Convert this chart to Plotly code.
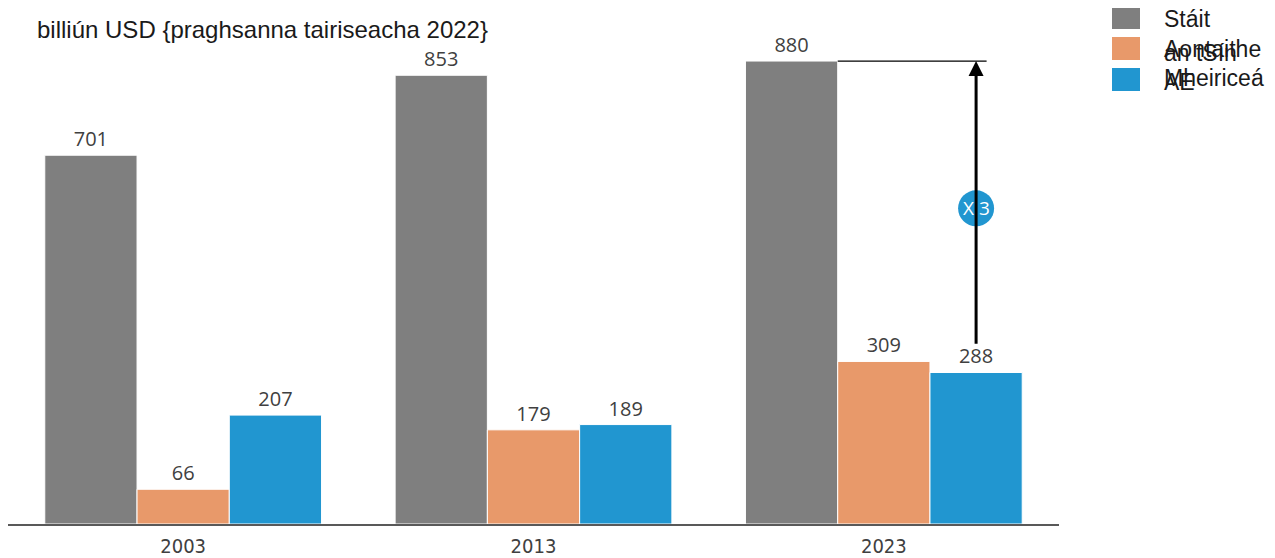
import plotly.graph_objects as go

years = ["2003", "2013", "2023"]
series_names = ["Stáit Aontaithe Mheiriceá", "an tSín", "AE"]
usa = [701, 853, 880]
china = [66, 179, 309]
eu = [207, 189, 288]
colors = ["#7f7f7f", "#e8996a", "#2196d0"]
title_text = "billiún USD {praghsanna tairiseacha 2022}"
ratio_text = "X 3"

fig = go.Figure()
for name, vals, col in zip(series_names, [usa, china, eu], colors):
    fig.add_trace(go.Bar(
        x=years, y=vals, name=name,
        marker=dict(color=col, line=dict(color="white", width=1)),
        text=[str(v) for v in vals], textposition="outside",
        textfont=dict(family="Open Sans, sans-serif", size=20, color="#404040"),
        cliponaxis=False, showlegend=False,
    ))

# page has an 8px body margin; positions below are in screen pixels
PLOT_L, PLOT_R, PLOT_T, PLOT_B = 8, 1059, 40, 524
def px_x(p):
    return (p - PLOT_L) / (PLOT_R - PLOT_L)
def px_y(p):
    return (PLOT_B - p) / (PLOT_B - PLOT_T)

# legend drawn manually (text overlaps like in the reference)
sq_tops = [6, 37, 68]
for col, top in zip(colors, sq_tops):
    fig.add_shape(type="rect", xref="paper", yref="paper",
                  x0=px_x(1112), x1=px_x(1140), y0=px_y(top + 23), y1=px_y(top),
                  fillcolor=col, line=dict(width=0))

legend_font = dict(family="Liberation Sans, Arial, sans-serif", size=23, color="#1a1a1a")
usa_lines = series_names[0].split(" ")
for line, cy in zip(usa_lines, [19, 49, 78]):
    fig.add_annotation(xref="paper", yref="paper", x=px_x(1162), y=px_y(cy),
                       text=line, showarrow=False, xanchor="left", yanchor="middle",
                       font=legend_font)
for name, cy in zip(series_names[1:], [53, 82]):
    fig.add_annotation(xref="paper", yref="paper", x=px_x(1162), y=px_y(cy),
                       text=name, showarrow=False, xanchor="left", yanchor="middle",
                       font=legend_font)

fig.add_annotation(xref="paper", yref="paper", x=px_x(35), y=px_y(30),
                   text=title_text, showarrow=False, xanchor="left", yanchor="middle",
                   font=dict(family="Liberation Sans, Arial, sans-serif", size=24, color="#1a1a1a"))

# ratio arrow on 2023 group
bw = 0.79 / 3
x_gray_right = 2 - bw / 2
x_blue = 2 + bw
fig.add_shape(type="line", xref="x", yref="y", x0=x_gray_right, x1=x_blue + 0.03,
              y0=usa[2], y1=usa[2], line=dict(color="black", width=1.2))
fig.add_annotation(xref="x", yref="y", axref="x", ayref="y",
                   x=x_blue, y=usa[2], ax=x_blue, ay=eu[2] + 52,
                   showarrow=True, arrowhead=2, arrowsize=1, arrowwidth=3,
                   arrowcolor="black", text="")
mid_y = 600
fig.add_shape(type="circle", xref="x", yref="y", xsizemode="pixel", ysizemode="pixel",
              xanchor=x_blue, yanchor=mid_y, x0=-18, x1=18, y0=-18, y1=18,
              fillcolor="#2196d0", line=dict(width=0))
fig.add_annotation(xref="x", yref="y", x=x_blue, y=mid_y, text=ratio_text,
                   showarrow=False, font=dict(family="Open Sans, sans-serif", size=19, color="white"))

fig.update_layout(
    width=1267, height=550,
    margin=dict(l=0, r=1267 - (PLOT_R - 8), t=PLOT_T - 8, b=550 - (PLOT_B - 8), autoexpand=False),
    barmode="group", bargap=0.21, bargroupgap=0,
    plot_bgcolor="white", paper_bgcolor="white",
    xaxis=dict(showline=True, linecolor="#595959", linewidth=1.5, ticks="",
               automargin=False, ticklabelstandoff=3,
               tickfont=dict(family="Liberation Sans Narrow, Arial Narrow, DejaVu Sans Condensed, sans-serif",
                             size=20, color="#404040"),
               showgrid=False),
    yaxis=dict(range=[0, 920], visible=False, showgrid=False, automargin=False),
)

fig.write_html("out.html")
